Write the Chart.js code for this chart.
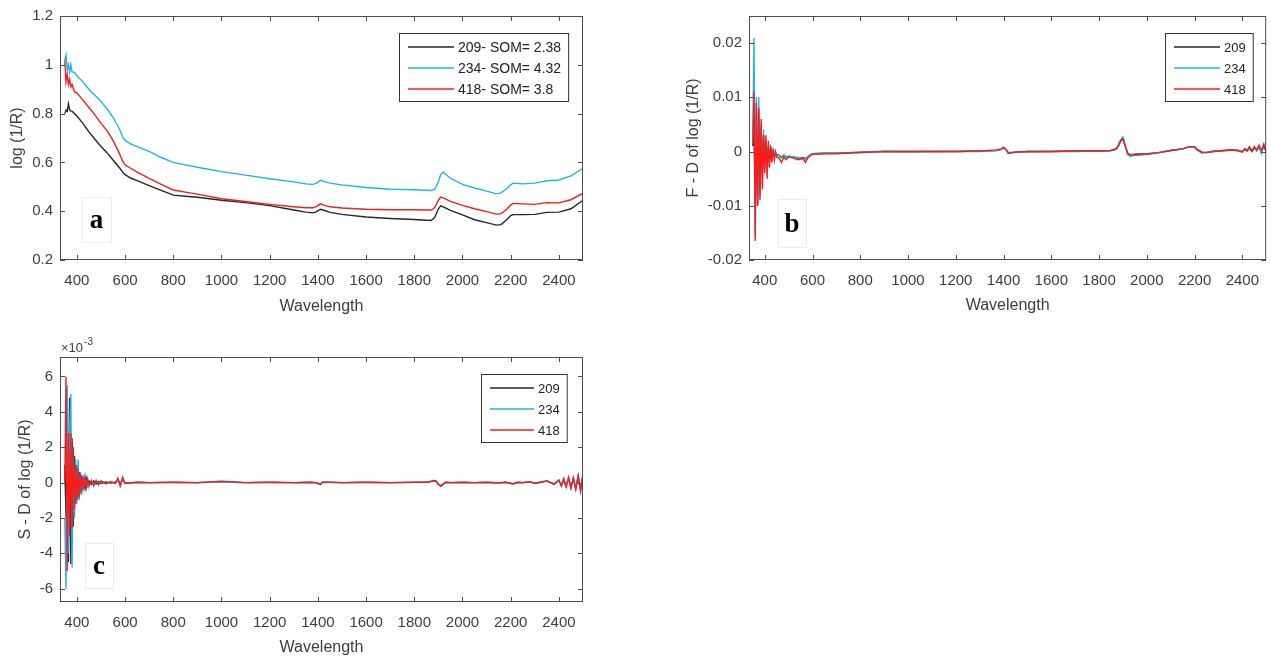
<!DOCTYPE html>
<html>
<head>
<meta charset="utf-8">
<script src="https://cdn.jsdelivr.net/npm/chart.js@4.4.0/dist/chart.umd.min.js"></script>
<style>
  body { margin: 0; background: #fff; width: 1271px; height: 657px; position: relative; overflow: hidden; }
  .panel { position: absolute; }
  #wrap-a { left: 0; top: 0; width: 600px; height: 330px; }
  #wrap-b { left: 680px; top: 0; width: 591px; height: 330px; }
  #wrap-c { left: 0; top: 330px; width: 600px; height: 327px; }
</style>
</head>
<body>
<div class="panel" id="wrap-a"><canvas id="chart-a"></canvas></div>
<div class="panel" id="wrap-b"><canvas id="chart-b"></canvas></div>
<div class="panel" id="wrap-c"><canvas id="chart-c"></canvas></div>
<script>
// series + labels
const seriesNames = ['209', '234', '418'];
const legendA = ['209- SOM= 2.38', '234- SOM= 4.32', '418- SOM= 3.8'];
const lineColors = ['#262626', '#1cb4ec', '#f71c1c'];

const xTicks = [400, 600, 800, 1000, 1200, 1400, 1600, 1800, 2000, 2200, 2400];
const yTicksA = [0.2, 0.4, 0.6, 0.8, 1, 1.2];
const yTicksB = [-0.02, -0.01, 0, 0.01, 0.02];
const yTicksC = [-6, -4, -2, 0, 2, 4, 6]; // x 10^-3

// a: log(1/R)
const wlA = [350,355,360,365,370,375,380,390,400,425,450,475,500,525,550,575,590,600,625,650,700,750,800,850,900,
  1000,1100,1200,1300,1350,1380,1395,1410,1425,1450,1500,1600,1700,1800,1850,1870,1885,1900,1910,1920,
  1950,2000,2050,2100,2140,2160,2180,2200,2210,2250,2300,2350,2400,2450,2500];
const abs209 = [0.80,0.815,0.81,0.84,0.815,0.81,0.81,0.80,0.79,0.76,0.725,0.695,0.665,0.64,0.61,0.58,0.56,0.55,
  0.535,0.525,0.505,0.485,0.466,0.461,0.457,0.445,0.435,0.423,0.405,0.396,0.393,0.398,0.408,0.404,0.395,
  0.387,0.376,0.37,0.366,0.363,0.362,0.375,0.41,0.422,0.418,0.403,0.385,0.365,0.353,0.343,0.345,0.362,0.382,0.386,0.386,
  0.387,0.395,0.396,0.41,0.445];
const abs234 = [1.02,1.04,0.98,1.0,0.97,1.0,0.97,0.97,0.955,0.93,0.90,0.875,0.85,0.82,0.785,0.74,0.705,0.69,
  0.675,0.665,0.645,0.62,0.60,0.59,0.58,0.562,0.548,0.533,0.52,0.512,0.51,0.515,0.527,0.522,0.515,
  0.508,0.497,0.49,0.488,0.486,0.485,0.49,0.52,0.552,0.56,0.535,0.51,0.495,0.482,0.471,0.475,0.49,0.508,0.515,0.512,
  0.515,0.525,0.528,0.545,0.576];
const abs418 = [1.02,0.93,0.96,0.92,0.94,0.91,0.92,0.89,0.885,0.855,0.825,0.795,0.76,0.73,0.69,0.64,0.605,0.59,
  0.575,0.56,0.535,0.51,0.487,0.478,0.47,0.451,0.44,0.428,0.418,0.414,0.414,0.42,0.43,0.425,0.418,
  0.413,0.408,0.406,0.406,0.405,0.405,0.415,0.445,0.458,0.455,0.44,0.424,0.41,0.398,0.388,0.39,0.405,0.425,0.432,0.43,
  0.428,0.435,0.434,0.447,0.474];

// b + c: derivatives
const wlB = [350,355,360,365,370,375,380,385,390,395,400,405,410,415,420,425,430,435,440,445,450,
  460,470,480,490,500,520,540,560,570,580,590,600,
  650,700,800,900,1000,1100,1200,1300,1370,1390,
  1400,1410,1420,1450,1500,1600,1700,1800,1850,1870,
  1880,1890,1900,1910,1920,1930,1950,2000,2050,2100,
  2150,2180,2200,2210,2230,2250,2280,2300,2350,2380,
  2400,2410,2420,2430,2440,2450,2460,2470,2480,2490,2500];

const fd209 = [0.001,0.004,-0.008,0.008,-0.010,0.007,-0.006,0.004,-0.004,0.003,-0.002,0.0015,-0.002,0.001,-0.0015,0.0005,-0.001,0,-0.0008,-0.0002,-0.0005,
  -0.0007,-0.001,-0.0007,-0.001,-0.0009,-0.001,-0.0012,-0.0011,-0.0013,-0.001,-0.0006,-0.0004,
  -0.0003,-0.0003,-0.0001,0,0,0,0,0.0001,0.0002,0.0004,
  0.0007,0.0004,-0.0002,-0.0001,0,0,0.0001,0.0001,0.0002,0.0004,
  0.0009,0.0019,0.0023,0.001,-0.0003,-0.0006,-0.0005,-0.0004,-0.0002,0.0002,
  0.0005,0.0009,0.0009,0.0004,-0.0001,-0.0002,0,0.0001,0.0003,0.0002,
  0,0.0004,0.0001,0.0006,0,0.0007,0.0002,0.0009,-0.0002,0.001,0];
const fd234 = [0.003,0.021,-0.0155,0.010,-0.0095,0.010,-0.008,0.005,-0.006,0.004,-0.003,0.002,-0.003,0.001,-0.002,0.0008,-0.0012,0.0003,-0.001,-0.0003,-0.0006,
  -0.0008,-0.0012,-0.0006,-0.0011,-0.0008,-0.001,-0.0011,-0.0012,-0.0014,-0.001,-0.0006,-0.0004,
  -0.0003,-0.0003,-0.0002,0,-0.0001,0,0,0,0.0002,0.0004,
  0.0007,0.0004,-0.0003,-0.0002,-0.0001,0,0,0.0001,0.0002,0.0005,
  0.0011,0.0021,0.0027,0.0011,-0.0005,-0.0009,-0.0007,-0.0005,-0.0002,0.0002,
  0.0005,0.0009,0.0008,0.0003,-0.0003,-0.0001,0,0.0002,0.0002,0.0003,
  0,0.0006,0.0001,0.0007,0.0002,0.001,0.0001,0.0009,-0.0004,0.0012,0.0003];
const fd418 = [0.002,0.011,-0.0165,0.009,-0.010,0.008,-0.009,0.006,-0.007,0.003,-0.004,0.003,-0.005,0.002,-0.003,0.001,-0.002,0.0005,-0.0015,0,-0.001,
  -0.0012,-0.002,-0.001,-0.0015,-0.001,-0.0012,-0.0015,-0.0013,-0.002,-0.0012,-0.0008,-0.0005,
  -0.0004,-0.0004,-0.0002,0,0,0,0,0.0001,0.0003,0.0005,
  0.0008,0.0004,-0.0003,-0.0001,0,0,0.0001,0.0001,0.0002,0.0005,
  0.001,0.002,0.0024,0.001,-0.0004,-0.0006,-0.0006,-0.0005,-0.0002,0.0002,
  0.0005,0.0009,0.0009,0.0004,-0.0001,-0.0002,0.0001,0.0001,0.0003,0.0002,
  -0.0001,0.0005,0.0002,0.0009,0.0001,0.0008,0.0003,0.0012,0.0002,0.0014,-0.0002];

// second derivative, in units of 10^-3
const sd209 = [1,-2,5.3,-4.5,4.8,-4.6,2.5,-2.5,1.5,-1.2,1.0,-0.9,0.6,-0.6,0.4,-0.4,0.25,-0.25,0.2,-0.15,0.1,
  -0.1,0.1,-0.08,0.06,-0.05,0.03,-0.03,0.03,0.15,-0.1,0.15,-0.03,
  0.01,0,0.01,0,0.04,0,0.01,0,0.01,0,
  -0.04,-0.08,0.01,0.01,0,0.01,0,0.01,0.01,0.06,
  0.1,0.08,-0.08,-0.18,-0.08,0.01,0,0.01,0,0.01,
  -0.01,0.01,-0.04,-0.06,0.01,0,0.04,-0.04,0.08,-0.08,
  0.12,-0.15,0.15,-0.2,0.25,-0.25,0.2,-0.3,0.3,-0.4,0.4];
const sd234 = [-2,-6,5.5,-4,3,5,-4.8,2,-2,1.3,-1.2,1.3,-1,0.6,-0.7,0.4,-0.4,0.3,-0.3,0.2,-0.25,
  0.15,-0.2,0.15,-0.15,0.1,-0.08,0.06,-0.05,0.2,-0.15,0.2,-0.05,
  0.02,0,0.01,0,0.03,0,0.01,0,0.01,0,
  -0.05,-0.1,0.02,0.01,0,0.01,0,0.01,0.01,0.07,
  0.12,0.1,-0.1,-0.22,-0.1,0.02,0,0.01,0,0.01,
  -0.02,0.02,-0.05,-0.07,0.02,0,0.05,-0.05,0.08,-0.1,
  0.1,-0.15,0.25,-0.2,0.2,-0.35,0.3,-0.3,0.35,-0.4,0.3];
const sd418 = [0,6,-5,2.8,-3,2.8,-2.6,2,-1.5,1,-1,0.8,-0.8,0.5,-0.5,0.3,-0.3,0.2,-0.2,0.15,-0.15,
  0.1,-0.15,0.1,-0.1,0.08,-0.05,0.05,-0.05,0.25,-0.2,0.3,-0.05,
  0.02,0,0.02,0,0.08,0,0.02,0,0.02,0,
  -0.05,-0.1,0.02,0.02,0,0.02,0,0.02,0.02,0.08,
  0.12,0.1,-0.1,-0.2,-0.1,0.02,0,0.02,0,0.02,
  -0.02,0.02,-0.05,-0.08,0.02,0,0.05,-0.05,0.1,-0.1,
  0.15,-0.2,0.2,-0.25,0.3,-0.3,0.25,-0.4,0.4,-0.5,0.6];

const tickColor = '#3d3d3d';
const axisColor = '#4d4d4d';
const sans = '"Liberation Sans", Arial, sans-serif';

// box, inward ticks, legend, panel letter (matlab look)
const matlabAxes = {
  id: 'matlabAxes',
  afterDatasetsDraw(chart) {
    const ctx = chart.ctx;
    const a = chart.chartArea;
    const xs = chart.scales.x, ys = chart.scales.y;
    ctx.save();
    ctx.strokeStyle = axisColor;
    ctx.lineWidth = 1;
    ctx.beginPath();
    xs.ticks.forEach(t => {
      const px = Math.round(xs.getPixelForValue(t.value)) + 0.5;
      ctx.moveTo(px, a.bottom); ctx.lineTo(px, a.bottom - 5);
      ctx.moveTo(px, a.top); ctx.lineTo(px, a.top + 5);
    });
    ys.ticks.forEach(t => {
      const py = Math.round(ys.getPixelForValue(t.value)) + 0.5;
      ctx.moveTo(a.left, py); ctx.lineTo(a.left + 5, py);
      ctx.moveTo(a.right, py); ctx.lineTo(a.right - 5, py);
    });
    ctx.stroke();
    ctx.strokeRect(a.left + 0.5, a.top + 0.5, a.right - a.left - 1, a.bottom - a.top - 1);
    ctx.restore();
  },
  afterDraw(chart, args, opts) {
    const ctx = chart.ctx;
    const a = chart.chartArea;
    ctx.save();

    // letter
    const L = opts.letter;
    const lx = a.left + L.dx, ly = a.bottom - L.dy;
    ctx.fillStyle = '#fff';
    ctx.fillRect(lx, ly, L.w, L.h);
    ctx.strokeStyle = '#ececec';
    ctx.strokeRect(lx + 0.5, ly + 0.5, L.w, L.h);
    ctx.fillStyle = '#000';
    ctx.font = 'bold 27px "Liberation Serif", serif';
    ctx.textAlign = 'center';
    ctx.textBaseline = 'middle';
    ctx.fillText(L.text, lx + L.w / 2, ly + L.h / 2 + 2);

    // legend
    const G = opts.legend;
    ctx.font = G.size + 'px ' + sans;
    const tw = Math.max(...G.labels.map(s => ctx.measureText(s).width));
    const bw = 9 + G.line + 4 + tw + 7;
    const bx = Math.round(a.right - G.dx - bw), by = a.top + G.dy;
    ctx.fillStyle = '#fff';
    ctx.fillRect(bx, by, bw, 68);
    ctx.strokeStyle = '#333';
    ctx.lineWidth = 1;
    ctx.strokeRect(bx + 0.5, by + 0.5, bw, 68);
    chart.data.datasets.forEach((ds, i) => {
      const ry = by + 14 + i * 21;
      ctx.strokeStyle = ds.borderColor;
      ctx.lineWidth = 1.4;
      ctx.beginPath();
      ctx.moveTo(bx + 9, ry); ctx.lineTo(bx + 9 + G.line, ry);
      ctx.stroke();
      ctx.fillStyle = '#222';
      ctx.textAlign = 'left';
      ctx.textBaseline = 'middle';
      ctx.fillText(G.labels[i], bx + 13 + G.line, ry + 1);
    });

    // exponent label
    if (opts.exponent) {
      ctx.fillStyle = tickColor;
      ctx.textAlign = 'left';
      ctx.textBaseline = 'middle';
      ctx.font = '13px ' + sans;
      ctx.fillText('\u00d710', a.left + 1, a.top - 9);
      const w = ctx.measureText('\u00d710').width;
      ctx.font = '10px ' + sans;
      ctx.fillText(opts.exponent, a.left + 2 + w, a.top - 15);
    }
    ctx.restore();
  }
};

function makePanel(id, cfg) {
  const datasets = cfg.ys.map((vals, i) => ({
    label: seriesNames[i],
    data: cfg.wl.map((w, j) => ({ x: w, y: vals[j] })),
    borderColor: lineColors[i],
    borderWidth: 1.4,
    pointRadius: 0,
    tension: 0,
    order: 2 - i
  }));
  return new Chart(document.getElementById(id), {
    type: 'line',
    data: { datasets: datasets },
    plugins: [matlabAxes],
    options: {
      responsive: true,
      maintainAspectRatio: false,
      animation: false,
      layout: { padding: { top: cfg.top, right: cfg.right, left: 0, bottom: 0 }, autoPadding: false },
      plugins: {
        legend: { display: false },
        tooltip: { enabled: false },
        matlabAxes: { letter: cfg.letter, legend: cfg.legend, exponent: cfg.exponent }
      },
      scales: {
        x: {
          type: 'linear',
          min: cfg.xMin,
          max: 2500,
          afterBuildTicks: s => { s.ticks = xTicks.map(v => ({ value: v })); },
          afterFit: s => { s.height = cfg.xH; },
          grid: { display: false, drawTicks: false },
          border: { display: false },
          ticks: { padding: 12, color: tickColor, font: { family: sans, size: 15 }, maxRotation: 0, autoSkip: false, callback: v => String(v) },
          title: { display: true, text: 'Wavelength', color: tickColor, font: { family: sans, size: 16 }, padding: { top: 0, bottom: cfg.xTitlePad } }
        },
        y: {
          type: 'linear',
          min: cfg.yMin,
          max: cfg.yMax,
          afterBuildTicks: s => { s.ticks = cfg.yTicks.map(v => ({ value: v })); },
          afterFit: s => { s.width = cfg.yW; },
          grid: { display: false, drawTicks: false },
          border: { display: false },
          ticks: { padding: 7, color: tickColor, font: { family: sans, size: 15 }, autoSkip: false, callback: v => String(v) },
          title: { display: true, text: cfg.yTitle, color: tickColor, font: { family: sans, size: 16 }, padding: { top: cfg.yTitlePad, bottom: 0 } }
        }
      }
    }
  });
}

makePanel('chart-a', {
  wl: wlA, ys: [abs209, abs234, abs418],
  xMin: 330, yMin: 0.2, yMax: 1.2, yTicks: yTicksA,
  top: 16, right: 17, xH: 70, yW: 60,
  xTitlePad: 14, yTitlePad: 8, yTitle: 'log (1/R)',
  letter: { text: 'a', dx: 22, dy: 63, w: 29, h: 45 },
  legend: { labels: legendA, size: 14, line: 46, dx: 15, dy: 17 }
});

makePanel('chart-b', {
  wl: wlB, ys: [fd209, fd234, fd418],
  xMin: 334, yMin: -0.02, yMax: 0.025, yTicks: yTicksB,
  top: 16, right: 0, xH: 70, yW: 69,
  xTitlePad: 15, yTitlePad: 4, yTitle: 'F - D of log (1/R)',
  letter: { text: 'b', dx: 29, dy: 61, w: 28, h: 48 },
  legend: { labels: seriesNames, size: 13, line: 46, dx: 14, dy: 17 }
});

makePanel('chart-c', {
  wl: wlB, ys: [sd209, sd234, sd418],
  xMin: 330, yMin: -6.75, yMax: 7.1, yTicks: yTicksC,
  top: 27, right: 17, xH: 55, yW: 60,
  xTitlePad: 0, yTitlePad: 16, yTitle: 'S - D of log (1/R)',
  letter: { text: 'c', dx: 25, dy: 59, w: 28, h: 45 },
  legend: { labels: seriesNames, size: 13, line: 44, dx: 16, dy: 17 },
  exponent: '-3'
});
</script>
</body>
</html>
